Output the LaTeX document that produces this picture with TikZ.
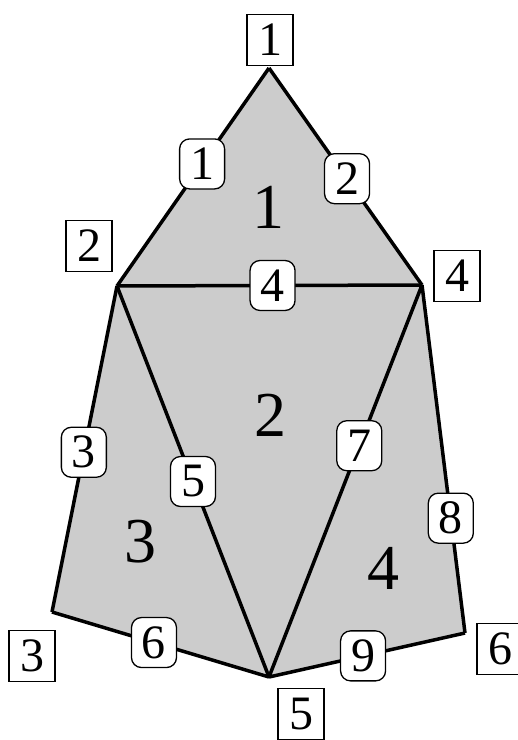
\documentclass[tikz,border=0pt]{standalone}
\usepackage{fontspec}
\setmainfont{Liberation Serif}
\usepackage{xcolor}
\definecolor{meshgray}{RGB}{204,204,204}
\tikzset{
  vertexlabel/.style={rectangle,draw=black,line width=1.3pt,fill=white,minimum width=46pt,minimum height=51pt,inner sep=0pt,font=\fontsize{48}{48}\selectfont},
  edgelabel/.style={rectangle,draw=black,line width=1.3pt,fill=white,rounded corners=10pt,minimum width=45pt,minimum height=50pt,inner sep=0pt,font=\fontsize{48}{48}\selectfont},
  facelabel/.style={inner sep=0pt,font=\fontsize{64}{64}\selectfont},
  meshedge/.style={line width=3.5pt,draw=black}
}

\begin{document}
\begin{tikzpicture}[x=1pt,y=-1pt]
  \useasboundingbox (0,0) rectangle (518,740);
  \coordinate (v1) at (269,68);
  \coordinate (v2) at (117,286);
  \coordinate (v3) at (52,612);
  \coordinate (v4) at (422,285);
  \coordinate (v5) at (269,677);
  \coordinate (v6) at (465,633);
  \fill[meshgray] (v1) -- (v4) -- (v6) -- (v5) -- (v3) -- (v2) -- cycle;
  \node[facelabel] (f1) at (268,207) {1};
  \node[facelabel] (f2) at (270,415) {2};
  \node[facelabel] (f3) at (140,542) {3};
  \node[facelabel] (f4) at (383,568) {4};
  \draw[meshedge] (v2) -- node[edgelabel,pos=0.56] (e1) {1} (v1);
  \draw[meshedge] (v1) -- node[edgelabel,pos=0.51] (e2) {2} (v4);
  \draw[meshedge] (v2) -- node[edgelabel,pos=0.51] (e3) {3} (v3);
  \draw[meshedge] (v2) -- node[edgelabel,pos=0.51] (e4) {4} (v4);
  \draw[meshedge] (v2) -- node[edgelabel,pos=0.50] (e5) {5} (v5);
  \draw[meshedge] (v3) -- node[edgelabel,pos=0.47] (e6) {6} (v5);
  \draw[meshedge] (v4) -- node[edgelabel,pos=0.41] (e7) {7} (v5);
  \draw[meshedge] (v4) -- node[edgelabel,pos=0.67] (e8) {8} (v6);
  \draw[meshedge] (v5) -- node[edgelabel,pos=0.48] (e9) {9} (v6);
  \node[vertexlabel] (n1) at (270,40) {1};
  \node[vertexlabel] (n2) at (89,246) {2};
  \node[vertexlabel] (n3) at (32,656) {3};
  \node[vertexlabel] (n4) at (457,276) {4};
  \node[vertexlabel] (n5) at (301,714) {5};
  \node[vertexlabel] (n6) at (500,649) {6};
\end{tikzpicture}
\end{document}
